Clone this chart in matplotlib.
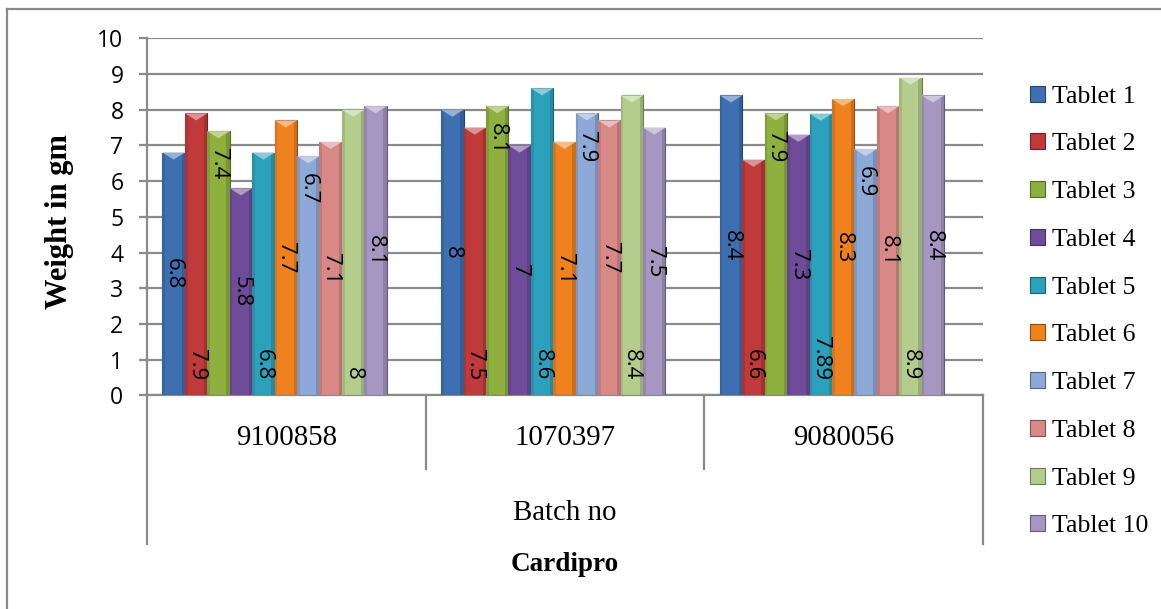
import matplotlib
matplotlib.use("Agg")
import matplotlib.pyplot as plt
from matplotlib.patches import Patch, Polygon
from matplotlib.lines import Line2D
import matplotlib.transforms as mtransforms
import numpy as np

# Data
batches = ["9100858", "1070397", "9080056"]
tablets = ["Tablet 1", "Tablet 2", "Tablet 3", "Tablet 4", "Tablet 5",
           "Tablet 6", "Tablet 7", "Tablet 8", "Tablet 9", "Tablet 10"]
tablet1 = [6.8, 8, 8.4]
tablet2 = [7.9, 7.5, 6.6]
tablet3 = [7.4, 8.1, 7.9]
tablet4 = [5.8, 7, 7.3]
tablet5 = [6.8, 8.6, 7.89]
tablet6 = [7.7, 7.1, 8.3]
tablet7 = [6.7, 7.9, 6.9]
tablet8 = [7.1, 7.7, 8.1]
tablet9 = [8, 8.4, 8.9]
tablet10 = [8.1, 7.5, 8.4]
series = [tablet1, tablet2, tablet3, tablet4, tablet5,
          tablet6, tablet7, tablet8, tablet9, tablet10]

colors = ["#3d6fb1", "#c0393b", "#8db03f", "#6f4c99", "#2ba1bb",
          "#f0811f", "#8ca9d8", "#d88887", "#b4cd8c", "#a697c2"]
# where each series puts its value label
label_pos = ["center", "base", "end", "center", "base",
             "center", "end", "center", "base", "center"]

grid_col = "#8a8a8a"
W, H = 1161, 609

fig = plt.figure(figsize=(W / 100, H / 100), dpi=100)
ax = fig.add_axes([147 / W, (H - 395.3) / H, 836 / W, 357 / H])

x = np.arange(len(batches))
bw = 0.0805
shift = -0.042


def darker(c, f=0.7):
    r, g, b = matplotlib.colors.to_rgb(c)
    return (r * f, g * f, b * f)


def lighter(c, f=0.45):
    r, g, b = matplotlib.colors.to_rgb(c)
    return (r + (1 - r) * f, g + (1 - g) * f, b + (1 - b) * f)


for j, vals in enumerate(series):
    xs = x + shift + (j - 4.5) * bw
    bars = ax.bar(xs, vals, width=bw, color=colors[j], edgecolor=darker(colors[j], 0.6),
                  linewidth=0.8, zorder=3)
    # bevel look: light triangle on top, darker strips on the sides
    for b in bars:
        bx, by, bwid, bh = b.get_x(), b.get_y(), b.get_width(), b.get_height()
        tri = Polygon([[bx, by + bh], [bx + bwid, by + bh], [bx + bwid / 2, by + bh - 0.2]],
                      closed=True, facecolor=lighter(colors[j]), edgecolor="none", zorder=4)
        ax.add_patch(tri)
        ax.bar(bx + bwid * 0.85, bh, width=bwid * 0.15, align="edge",
               color=darker(colors[j], 0.85), linewidth=0, zorder=3.5)
        ax.bar(bx, bh, width=bwid * 0.12, align="edge",
               color=darker(colors[j], 0.9), linewidth=0, zorder=3.5)
    for xi, v in zip(xs, vals):
        txt = f"{v:g}"
        if label_pos[j] == "center":
            ax.annotate(txt, (xi, v / 2), ha="center", va="center", rotation=-90,
                        fontsize=16, family="Open Sans", zorder=5)
        elif label_pos[j] == "base":
            ax.annotate(txt, (xi, 0), xytext=(0, 11), textcoords="offset points",
                        ha="center", va="bottom", rotation=-90,
                        fontsize=16, family="Open Sans", zorder=5)
        else:
            ax.annotate(txt, (xi, v), xytext=(0, -12.5), textcoords="offset points",
                        ha="center", va="top", rotation=-90,
                        fontsize=16, family="Open Sans", zorder=5)

ax.set_xlim(-0.5, len(batches) - 0.5)
ax.set_ylim(0, 10)
ax.set_yticks(range(0, 11))
ax.set_xticks([])
ax.yaxis.grid(True, color=grid_col, linewidth=1.6)
ax.set_axisbelow(True)
ax.tick_params(axis="y", length=6, width=1.6, color=grid_col, pad=11, labelsize=16.5)
for lab in ax.get_yticklabels():
    lab.set_family("Open Sans")
for s in ["top", "right"]:
    ax.spines[s].set_visible(False)
for s in ["left", "bottom"]:
    ax.spines[s].set_color(grid_col)
    ax.spines[s].set_linewidth(1.6)

# category axis table below the plot
trans = mtransforms.blended_transform_factory(ax.transData, ax.transAxes)
for d in np.arange(0.5, len(batches) - 0.5):
    ax.plot([d, d], [0, -0.2065], transform=trans, color=grid_col, lw=1.6, clip_on=False)
for d in [-0.5, len(batches) - 0.5]:
    ax.plot([d, d], [0, -0.4165], transform=trans, color=grid_col, lw=1.6, clip_on=False)
for xi, name in zip(x, batches):
    ax.text(xi, -0.12, name, transform=trans, ha="center", va="center",
            fontsize=20.8, family="Liberation Serif")
ax.text(1, -0.33, "Batch no", transform=trans, ha="center", va="center",
        fontsize=20.8, family="Liberation Serif")
ax.text(1, -0.475, "Cardipro", transform=trans, ha="center", va="center",
        fontsize=19.5, family="Liberation Serif", fontweight="bold")

fig.text(60 / W, 1 - 221.5 / H, "Weight in gm", rotation=90, ha="center", va="center",
         fontsize=22, family="Liberation Serif", fontweight="bold")

# legend
handles = [Patch(facecolor=c, edgecolor=darker(c, 0.6), linewidth=0.8) for c in colors]
fig.legend(handles, tablets, loc="center left", bbox_to_anchor=(1030 / W, 1 - 311.5 / H),
           frameon=False, borderpad=0, borderaxespad=0, handlelength=0.58, handleheight=0.58,
           handletextpad=0.26, labelspacing=1.0, prop={"family": "Liberation Serif", "size": 18.5})

# outer chart border (top and left)
fig.add_artist(Line2D([7 / W, 1], [1 - 9 / H, 1 - 9 / H], color=grid_col, lw=1.6))
fig.add_artist(Line2D([7 / W, 7 / W], [0, 1 - 9 / H], color=grid_col, lw=1.6))

fig.savefig("out.png", dpi=100)
